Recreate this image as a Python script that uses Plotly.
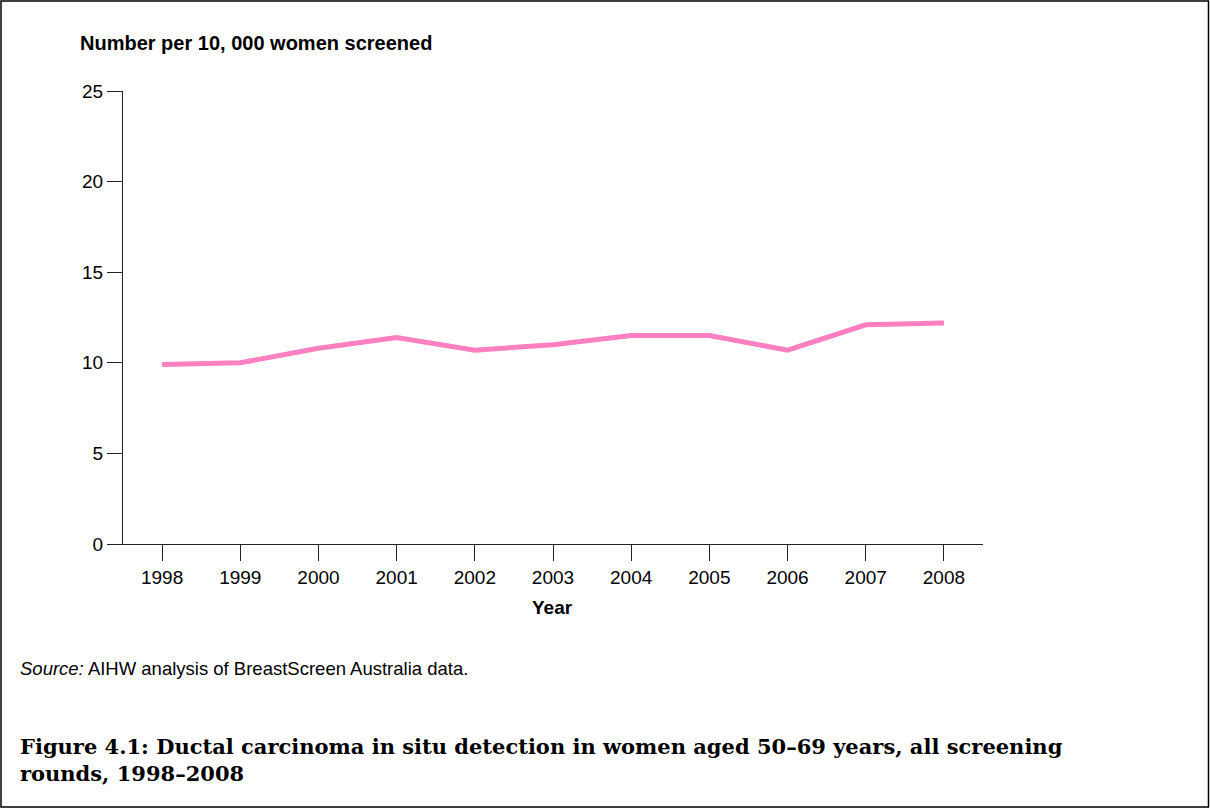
import plotly.graph_objects as go

years = [1998, 1999, 2000, 2001, 2002, 2003, 2004, 2005, 2006, 2007, 2008]
dcis_rate = [9.9, 10.0, 10.8, 11.4, 10.7, 11.0, 11.5, 11.5, 10.7, 12.1, 12.2]
y_ticks = [0, 5, 10, 15, 20, 25]

W, H = 1210, 809
L, R, T, B = 123, 227, 91, 265
pw, ph = W - L - R, H - T - B

def px(x):
    return (x - L) / pw

def py(y):
    return 1 - (y - T) / ph

fig = go.Figure()
fig.add_trace(go.Scatter(
    x=years, y=dcis_rate, mode="lines",
    line=dict(color="#FF80C0", width=5),
    showlegend=False, hoverinfo="x+y",
))

fig.update_layout(
    width=W, height=H,
    margin=dict(l=L, r=R, t=T, b=B, pad=0),
    paper_bgcolor="white", plot_bgcolor="white",
    font=dict(family="Liberation Sans, Arial, sans-serif", size=19, color="black"),
    xaxis=dict(
        range=[1997.5, 2008.5], tickvals=years, ticktext=[str(y) for y in years],
        showgrid=False, zeroline=False, showline=True, linecolor="#222", linewidth=1,
        ticks="outside", ticklen=16, tickcolor="#222", tickwidth=1,
        tickfont=dict(size=19), fixedrange=True,
    ),
    yaxis=dict(
        range=[0, 25], tickvals=y_ticks, showgrid=False, zeroline=False,
        showline=True, linecolor="#222", linewidth=1,
        ticks="outside", ticklen=15, tickcolor="#222", tickwidth=1,
        tickfont=dict(size=19), fixedrange=True,
    ),
)

annos = [
    dict(text="<b>Number per 10, 000 women screened</b>", x=px(78), y=py(43),
         xanchor="left", yanchor="middle", font=dict(size=20)),
    dict(text="<b>Year</b>", x=px(552), y=py(607), xanchor="center", yanchor="middle",
         font=dict(size=19)),
    dict(text="<i>Source:</i> AIHW analysis of BreastScreen Australia data.", x=px(18), y=py(668),
         xanchor="left", yanchor="middle", font=dict(size=18.5)),
    dict(text="<b>Figure 4.1: Ductal carcinoma in situ detection in women aged 50–69 years, all screening<br>rounds, 1998–2008</b>",
         x=px(18), y=py(760), xanchor="left", yanchor="middle", align="left",
         font=dict(family="DejaVu Serif, serif", size=21)),
]
for a in annos:
    fig.add_annotation(xref="paper", yref="paper", showarrow=False, **a)

fig.add_shape(type="rect", xref="paper", yref="paper",
              x0=px(1), x1=px(1208.5), y0=py(1), y1=py(807),
              line=dict(color="black", width=1.5), fillcolor="rgba(0,0,0,0)")

fig.write_html("out.html", config={"displayModeBar": False},
               post_script="document.body.style.margin='0px';document.body.style.overflow='hidden';")
